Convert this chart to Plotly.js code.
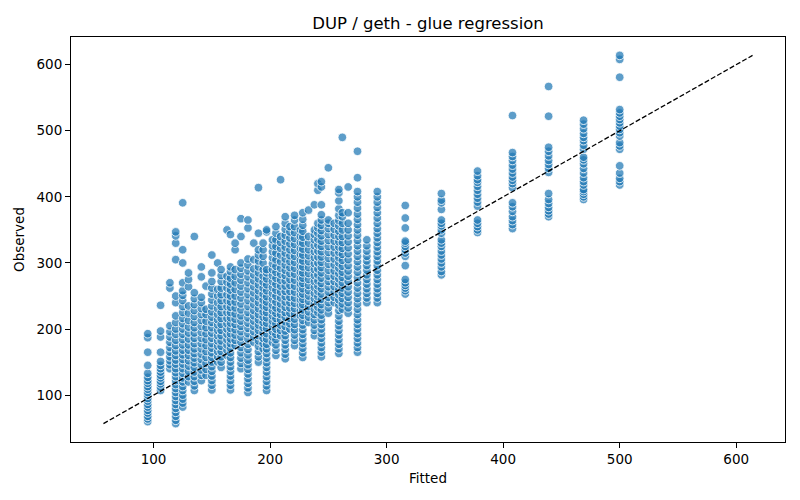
<!DOCTYPE html>
<html>
<head>
<meta charset="utf-8">
<script src="https://cdn.plot.ly/plotly-3.0.1.min.js"></script>
<style>
  body { margin: 0; background: #fff; }
  #chart { width: 800px; height: 500px; }
</style>
</head>
<body>
<div id="chart"></div>
<script>
// fitted value of each column of points
var columnFits = [95, 106, 114, 119, 125, 130, 135, 141, 145, 150, 155, 158, 163, 166, 170, 175, 181, 186, 190, 194,
  197, 202, 205, 209, 213, 217, 221, 226, 228, 233, 238, 241, 244, 250, 255, 259, 262, 267, 275, 283, 292,
  316, 347, 378, 408, 439, 469, 500]

var columnObs = [
  [60, 64, 68, 73, 77, 82, 86, 91, 95, 100, 104, 109, 113, 118, 122, 127, 133, 145, 165, 187, 193],
  [107, 112, 117, 121, 126, 130, 135, 140, 145, 151, 165, 188, 197, 236],
  [140, 146, 152, 158, 165, 172, 180, 188, 196, 205, 262, 270],
  [57, 62, 68, 74, 80, 86, 92, 98, 104, 110, 116, 122, 128, 134, 140, 147, 153, 160, 167, 175, 183, 192, 200, 210, 220, 240, 250, 305, 330, 341, 347],
  [82, 88, 94, 100, 107, 113, 120, 126, 133, 140, 147, 154, 161, 168, 176, 184, 192, 200, 208, 216, 225, 234, 243, 251, 258, 270, 300, 320, 391],
  [120, 128, 136, 144, 152, 160, 168, 176, 185, 194, 203, 213, 224, 235, 264, 275, 285],
  [107, 114, 121, 128, 135, 142, 149, 156, 163, 170, 178, 186, 194, 202, 210, 219, 228, 237, 246, 255, 340],
  [122, 130, 138, 146, 154, 162, 170, 178, 186, 195, 204, 213, 222, 231, 240, 248, 279, 294],
  [130, 139, 148, 157, 166, 175, 184, 193, 202, 212, 222, 230, 265],
  [108, 115, 122, 129, 136, 143, 150, 157, 164, 171, 178, 186, 194, 202, 210, 218, 226, 235, 244, 253, 262, 272, 285, 312],
  [150, 158, 166, 174, 182, 190, 198, 206, 214, 222, 231, 240, 250, 260, 300],
  [142, 150, 158, 166, 174, 182, 190, 198, 207, 216, 225, 234, 243, 252, 262, 272, 281, 290],
  [160, 168, 176, 184, 192, 200, 208, 216, 225, 234, 243, 252, 262, 271, 280, 350],
  [108, 115, 122, 129, 136, 143, 150, 157, 164, 171, 178, 185, 193, 201, 209, 217, 225, 233, 241, 250, 259, 268, 277, 287, 294, 343],
  [175, 183, 191, 199, 207, 215, 223, 232, 241, 250, 260, 270, 280, 290, 320, 330],
  [140, 148, 156, 164, 172, 180, 188, 196, 204, 212, 220, 229, 238, 247, 256, 265, 274, 283, 292, 300, 340, 367],
  [104, 111, 118, 125, 132, 139, 146, 153, 161, 169, 177, 185, 193, 201, 209, 217, 225, 234, 243, 252, 261, 270, 279, 288, 297, 306, 353, 365],
  [180, 188, 196, 204, 212, 220, 228, 237, 246, 255, 264, 273, 282, 291, 305, 330],
  [150, 158, 166, 174, 182, 190, 198, 206, 214, 222, 231, 240, 249, 258, 267, 276, 285, 294, 303, 312, 320, 345, 414],
  [170, 178, 186, 194, 202, 210, 218, 226, 235, 244, 253, 262, 271, 280, 290, 300, 310, 320, 330],
  [107, 114, 121, 128, 135, 142, 149, 156, 163, 170, 177, 185, 193, 201, 209, 217, 225, 233, 241, 249, 258, 267, 276, 285, 290, 347, 350],
  [180, 188, 196, 204, 212, 220, 228, 236, 245, 254, 263, 272, 281, 290, 299, 308, 317, 326, 335],
  [160, 168, 176, 184, 192, 200, 208, 216, 224, 232, 241, 250, 259, 268, 277, 286, 295, 305, 315, 325, 335, 345, 355],
  [190, 198, 206, 214, 222, 230, 238, 247, 256, 265, 274, 283, 292, 302, 312, 322, 331, 340, 426],
  [155, 162, 169, 176, 183, 190, 197, 204, 211, 218, 225, 233, 241, 249, 257, 265, 273, 281, 289, 297, 306, 315, 324, 333, 342, 351, 360, 370],
  [200, 208, 216, 224, 232, 240, 248, 257, 266, 275, 284, 293, 302, 311, 320, 329, 338, 347, 355],
  [175, 183, 191, 199, 207, 215, 223, 231, 239, 247, 256, 265, 274, 283, 292, 301, 310, 319, 328, 337, 346, 355, 365, 372],
  [220, 228, 236, 244, 252, 260, 268, 277, 286, 295, 304, 313, 322, 331, 340, 350],
  [157, 164, 171, 178, 185, 192, 199, 206, 213, 221, 229, 237, 245, 253, 261, 269, 277, 285, 294, 303, 312, 321, 330, 339, 348, 357, 366, 376],
  [210, 218, 226, 234, 242, 250, 258, 266, 275, 284, 293, 302, 311, 320, 330, 340, 380],
  [190, 198, 206, 214, 222, 230, 238, 246, 254, 263, 272, 281, 290, 299, 308, 317, 326, 335, 343, 350, 388],
  [225, 233, 241, 249, 257, 265, 273, 282, 291, 300, 309, 318, 327, 336, 345, 353, 360, 410, 420],
  [158, 165, 172, 179, 186, 193, 200, 207, 214, 221, 229, 237, 245, 253, 261, 269, 277, 285, 293, 301, 309, 317, 325, 333, 341, 349, 357, 365, 373, 388, 415, 423],
  [224, 232, 240, 248, 256, 264, 272, 280, 289, 298, 307, 316, 325, 334, 343, 352, 360, 365, 444],
  [240, 248, 256, 264, 272, 280, 288, 297, 306, 315, 324, 333, 342, 351, 360],
  [163, 170, 177, 184, 191, 198, 205, 212, 220, 228, 236, 244, 252, 260, 268, 276, 284, 292, 300, 308, 316, 324, 332, 340, 348, 356, 364, 372, 382, 394, 406, 411],
  [230, 238, 246, 254, 262, 270, 278, 286, 295, 304, 313, 322, 331, 340, 350, 360, 370, 376, 490],
  [224, 232, 240, 248, 256, 264, 272, 280, 288, 296, 305, 314, 323, 332, 341, 350, 360, 376, 415],
  [165, 172, 179, 186, 193, 200, 207, 214, 222, 230, 238, 246, 254, 262, 270, 278, 286, 294, 302, 310, 318, 326, 334, 342, 350, 358, 366, 374, 383, 392, 400, 408, 429, 469],
  [240, 247, 254, 261, 268, 275, 282, 289, 296, 303, 310, 318, 326, 335],
  [240, 247, 254, 261, 268, 275, 282, 289, 296, 303, 310, 317, 324, 331, 338, 345, 352, 360, 368, 376, 384, 392, 400, 408],
  [253, 258, 262, 266, 270, 275, 296, 310, 315, 320, 325, 330, 333, 353, 368, 387],
  [282, 287, 294, 300, 306, 312, 318, 325, 330, 335, 345, 350, 356, 360, 365, 381, 391, 395, 405],
  [346, 350, 355, 360, 365, 386, 392, 398, 404, 410, 416, 422, 426, 432, 439],
  [352, 358, 364, 370, 378, 385, 391, 414, 420, 425, 430, 436, 442, 448, 455, 461, 467, 523],
  [370, 374, 379, 384, 390, 396, 405, 437, 443, 449, 455, 462, 469, 475, 522, 567],
  [396, 400, 404, 408, 411, 418, 423, 429, 436, 443, 450, 456, 460, 472, 478, 485, 490, 496, 503, 510, 516],
  [418, 423, 428, 436, 447, 472, 477, 482, 492, 497, 502, 507, 512, 517, 522, 527, 532, 581, 608, 614]
]

function flattenColumns() {
    var xs = []
    var ys = []
    for (var i = 0; i < columnFits.length; i++) {
        for (var v of columnObs[i]) {
            xs.push(columnFits[i])
            ys.push(v)
        }
    }
    return [xs, ys]
}

var pts = flattenColumns()
var fitted = pts[0]
var observed = pts[1]

var lo = Math.min(Math.min.apply(null, fitted), Math.min.apply(null, observed))
var hi = Math.max(Math.max.apply(null, fitted), Math.max.apply(null, observed))
var pad = (hi - lo) * 0.05
var axisRange = [lo - pad, hi + pad]

var scatter = {
    x: fitted,
    y: observed,
    type: "scatter",
    mode: "markers",
    marker: {
        size: 8.6,
        color: "rgba(31, 119, 180, 0.72)",
        line: { color: "white", width: 0.8 }
    },
    hoverinfo: "skip"
}

var identity = {
    x: [lo, hi],
    y: [lo, hi],
    type: "scatter",
    mode: "lines",
    line: { color: "black", width: 1.3, dash: "5px,2.2px" },
    hoverinfo: "skip"
}

var axisStyle = {
    range: axisRange,
    tickvals: [100, 200, 300, 400, 500, 600],
    ticks: "outside",
    ticklen: 5,
    tickwidth: 1,
    tickcolor: "black",
    showline: true,
    linecolor: "black",
    linewidth: 1,
    mirror: true,
    showgrid: false,
    zeroline: false,
    tickfont: { size: 13.5, color: "black" }
}

var layout = {
    width: 800,
    height: 500,
    margin: { l: 71, r: 15, t: 37, b: 58 },
    paper_bgcolor: "white",
    plot_bgcolor: "white",
    font: { family: "DejaVu Sans, sans-serif", color: "black" },
    showlegend: false,
    title: {
        text: "DUP / geth - glue regression",
        font: { size: 16.5, color: "black" },
        xref: "paper",
        x: 0.5,
        y: 0.954,
        yanchor: "middle"
    },
    xaxis: Object.assign({}, axisStyle, {
        title: { text: "Fitted", font: { size: 13.5, color: "black" }, standoff: 7 }
    }),
    yaxis: Object.assign({}, axisStyle, {
        title: { text: "Observed", font: { size: 13.5, color: "black" }, standoff: 8 }
    })
}

Plotly.newPlot("chart", [scatter, identity], layout, { displayModeBar: false, staticPlot: true })
</script>
</body>
</html>
